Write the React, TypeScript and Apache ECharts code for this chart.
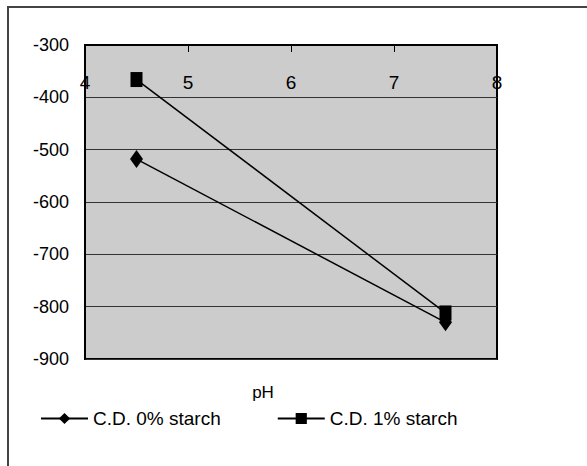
import React, { useEffect, useRef } from "react";
import * as echarts from "echarts";

const seriesNames = ["C.D. 0% starch", "C.D. 1% starch"];
const pHValues = [4.5, 7.5];
const starch0 = [-518, -830];
const starch1 = [-366, -812];
const xTicks = [4, 5, 6, 7, 8];
const yTicks = [-900, -800, -700, -600, -500, -400, -300];
const xAxisTitle = "pH";

const FONT = "'Liberation Sans', Arial, sans-serif";

export default function App() {
  const ref = useRef<HTMLDivElement>(null);
  useEffect(() => {
    if (!ref.current) return;
    const chart = echarts.init(ref.current, null, { renderer: "svg" });
    chart.setOption({
      animation: false,
      backgroundColor: "#ffffff",
      textStyle: { fontFamily: FONT },
      grid: {
        left: 85,
        top: 45,
        right: 90,
        bottom: 107,
        show: true,
        backgroundColor: "#cccccc",
        borderColor: "#000000",
        borderWidth: 2,
      },
      xAxis: {
        type: "value",
        position: "top",
        min: xTicks[0],
        max: xTicks[xTicks.length - 1],
        interval: 1,
        axisLine: { show: true, onZero: false, lineStyle: { color: "#000", width: 2 } },
        axisTick: { show: true, inside: true, length: 7, lineStyle: { color: "#000" } },
        axisLabel: {
          inside: true,
          margin: 28,
          color: "#000",
          fontSize: 19,
          fontFamily: FONT,
        },
        splitLine: { show: false },
      },
      yAxis: {
        type: "value",
        min: yTicks[0],
        max: yTicks[yTicks.length - 1],
        interval: 100,
        axisLine: { show: true, onZero: false, lineStyle: { color: "#000", width: 2 } },
        axisTick: { show: false },
        axisLabel: {
          margin: 16,
          color: "#000",
          fontSize: 18,
          fontFamily: FONT,
          padding: [0, 0, 9, 0],
        },
        splitLine: { show: true, lineStyle: { color: "#333333", width: 1 } },
      },
      legend: {
        left: 35,
        top: 404,
        itemWidth: 47,
        itemHeight: 14,
        itemGap: 56,
        textStyle: { fontSize: 19, color: "#000", fontFamily: FONT },
        data: seriesNames,
      },
      graphic: [
        {
          type: "rect",
          shape: { x: 8, y: 7, width: 700, height: 600 },
          style: { fill: "none", stroke: "#444444", lineWidth: 2 },
          silent: true,
          z: -1,
        },
        {
          type: "text",
          x: 263,
          y: 392,
          style: {
            text: xAxisTitle,
            fontSize: 17,
            fontFamily: FONT,
            fill: "#000",
            align: "center",
            verticalAlign: "middle",
          },
        },
      ],
      series: [
        {
          name: seriesNames[0],
          type: "line",
          data: pHValues.map((x, i) => [x, starch0[i]]),
          symbol: "diamond",
          symbolSize: [13, 18],
          lineStyle: { color: "#000", width: 1.5 },
          itemStyle: { color: "#000" },
        },
        {
          name: seriesNames[1],
          type: "line",
          data: pHValues.map((x, i) => [x, starch1[i]]),
          symbol: "rect",
          symbolSize: [12, 15],
          lineStyle: { color: "#000", width: 1.5 },
          itemStyle: { color: "#000" },
        },
      ],
    });
    return () => chart.dispose();
  }, []);
  return (
    <div
      ref={ref}
      style={{ position: "absolute", left: 0, top: 0, width: 587, height: 466 }}
    />
  );
}
